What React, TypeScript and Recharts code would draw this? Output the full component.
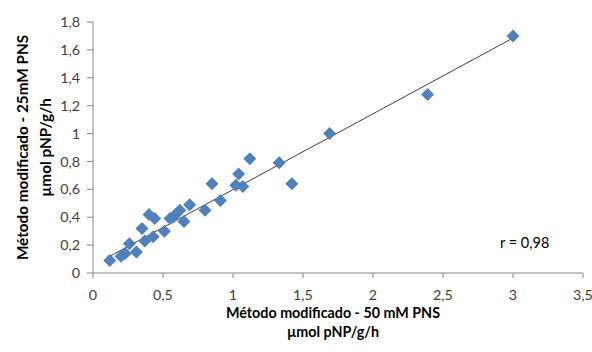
import React from 'react';
import { ScatterChart, Scatter, XAxis, YAxis, Label } from 'recharts';

// valores (método 50 mM vs 25 mM)
const metodo50 = [
  0.12, 0.2, 0.23, 0.26, 0.31, 0.35, 0.37, 0.4, 0.44, 0.43, 0.51, 0.55, 0.57, 0.59, 0.62, 0.65, 0.69,
  0.8, 0.85, 0.91, 1.02, 1.04, 1.07, 1.12, 1.33, 1.42, 1.69, 2.39, 3.0,
];
const metodo25 = [
  0.09, 0.12, 0.14, 0.21, 0.15, 0.32, 0.23, 0.42, 0.39, 0.26, 0.3, 0.39, 0.4, 0.42, 0.45, 0.37, 0.49,
  0.45, 0.64, 0.52, 0.63, 0.71, 0.62, 0.82, 0.79, 0.64, 1.0, 1.28, 1.7,
];

// linha de tendência (extremos lidos)
const trendX = [0.12, 3.0];
const trendY = [0.12, 1.685];

const xTicks = [0, 0.5, 1, 1.5, 2, 2.5, 3, 3.5];
const yTicks = [0, 0.2, 0.4, 0.6, 0.8, 1, 1.2, 1.4, 1.6, 1.8];

const pontos = metodo50.map((x, i) => ({ x, y: metodo25[i] }));
const tendencia = trendX.map((x, i) => ({ x, y: trendY[i] }));

const FONT = 'Lato, "Liberation Sans", sans-serif';
const fmt = (v: number) => String(v).replace('.', ',');

const Diamond = (props: any) => {
  const { cx, cy } = props;
  const r = 6.5;
  return <path d={`M${cx},${cy - r}L${cx + r},${cy}L${cx},${cy + r}L${cx - r},${cy}Z`} fill="#4F81BD" />;
};

const XTitle = (props: any) => {
  const { x, y, width } = props.viewBox;
  const cx = x + width / 2 - 5;
  return (
    <text x={cx} textAnchor="middle" fontFamily={FONT} fontWeight="bold" fontSize={14.3} fill="#000">
      <tspan x={cx} y={y + 45}>Método modificado - 50 mM PNS</tspan>
      <tspan x={cx} y={y + 64}>µmol pNP/g/h</tspan>
    </text>
  );
};

const YTitle = (props: any) => {
  const { y, height } = props.viewBox;
  const cy = y + height / 2;
  return (
    <text transform={`translate(0, ${cy}) rotate(-90)`} textAnchor="middle" fontFamily={FONT} fontWeight="bold" fontSize={15.3} fill="#000">
      <tspan x={0} y={28}>Método modificado - 25mM PNS</tspan>
      <tspan x={0} y={51}>µmol pNP/g/h</tspan>
    </text>
  );
};

export default function App() {
  return (
    <div style={{ position: 'absolute', left: 0, top: 0, width: 592, height: 352, background: '#fff' }}>
      <ScatterChart width={592} height={352} margin={{ top: 22, right: 9, bottom: 0, left: 0 }}>
        <XAxis
          type="number"
          dataKey="x"
          domain={[0, 3.5]}
          ticks={xTicks}
          tickFormatter={fmt}
          height={79}
          tickSize={5}
          tickMargin={12}
          stroke="#868686"
          tick={{ fill: '#404040', fontSize: 14.3, fontFamily: FONT }}
          allowDataOverflow
        >
          <Label content={<XTitle />} />
        </XAxis>
        <YAxis
          type="number"
          dataKey="y"
          domain={[0, 1.8]}
          ticks={yTicks}
          tickFormatter={fmt}
          width={93}
          tickSize={6}
          tickMargin={7}
          stroke="#868686"
          tick={{ fill: '#404040', fontSize: 14.3, fontFamily: FONT }}
          allowDataOverflow
        >
          <Label content={<YTitle />} />
        </YAxis>
        <Scatter
          data={tendencia}
          line={{ stroke: '#404040', strokeWidth: 1 }}
          shape={() => <g />}
          isAnimationActive={false}
        />
        <Scatter data={pontos} shape={<Diamond />} isAnimationActive={false} />
        <text x={500} y={248} fontFamily={FONT} fontSize={14.5} fill="#000">r = 0,98</text>
      </ScatterChart>
    </div>
  );
}
